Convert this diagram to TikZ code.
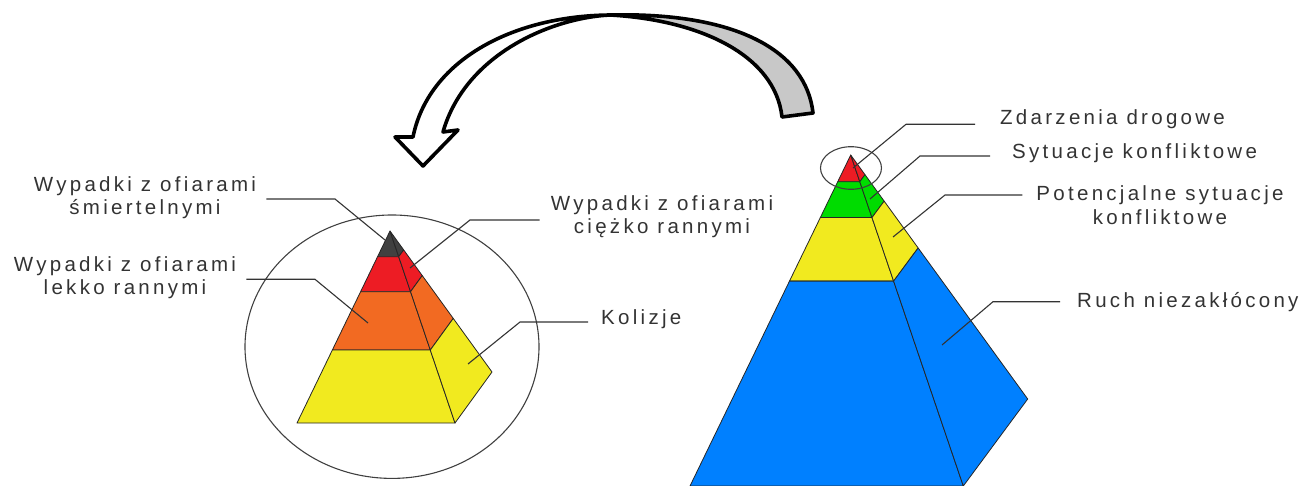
\documentclass[tikz,border=0pt]{standalone}
\usepackage{fontspec}
\setmainfont{Liberation Sans}[LetterSpace=16]
\usetikzlibrary{calc}
\definecolor{txt}{HTML}{333333}
\definecolor{pgray}{HTML}{404040}
\definecolor{pred}{HTML}{ED1C24}
\definecolor{porange}{HTML}{F26A22}
\definecolor{pyellow}{HTML}{F1EA1F}
\definecolor{pgreen}{HTML}{00DC00}
\definecolor{pblue}{HTML}{0080FF}
\definecolor{agray}{HTML}{C8C8C8}

\begin{document}
\begin{tikzpicture}[x=1pt,y=-1pt,
	lbl/.style={font=\fontsize{20.5}{23.5}\selectfont,text=txt,inner sep=0pt,align=center},
	leader/.style={draw=txt,line width=1.1pt},
	face/.style={draw=black!85,line width=0.8pt,line join=round},
	ring/.style={draw=black!75,line width=1.1pt},
	arrowline/.style={draw=black,line width=3.6pt,line join=round}]
	\useasboundingbox (0,0) rectangle (1314,486);
	\coordinate (lA) at (390,231); \coordinate (lL) at (297,423);
	\coordinate (lM) at (455,423); \coordinate (lR) at (492,372);
	\foreach \ta/\tb/\col in {0/0.134/pgray,0.134/0.316/pred,0.316/0.62/porange,0.62/1/pyellow}{
		\filldraw[face,fill=\col] ($(lA)!\ta!(lL)$) -- ($(lA)!\ta!(lM)$) -- ($(lA)!\tb!(lM)$) -- ($(lA)!\tb!(lL)$) -- cycle;
		\filldraw[face,fill=\col] ($(lA)!\ta!(lM)$) -- ($(lA)!\ta!(lR)$) -- ($(lA)!\tb!(lR)$) -- ($(lA)!\tb!(lM)$) -- cycle;
	}
	\coordinate (rA) at (850.7,155); \coordinate (rL) at (690,486);
	\coordinate (rM) at (963.3,486); \coordinate (rR) at (1027.7,399);
	\foreach \ta/\tb/\col in {0/0.0807/pred,0.0807/0.189/pgreen,0.189/0.381/pyellow,0.381/1/pblue}{
		\filldraw[face,fill=\col] ($(rA)!\ta!(rL)$) -- ($(rA)!\ta!(rM)$) -- ($(rA)!\tb!(rM)$) -- ($(rA)!\tb!(rL)$) -- cycle;
		\filldraw[face,fill=\col] ($(rA)!\ta!(rM)$) -- ($(rA)!\ta!(rR)$) -- ($(rA)!\tb!(rR)$) -- ($(rA)!\tb!(rM)$) -- cycle;
	}
	\draw[ring] (392,346.7) ellipse (147 and 131.7);
	\draw[ring] (851,168) ellipse (30.5 and 21.3);
	\filldraw[arrowline,fill=agray] (782,117) -- (813,113) .. controls (806,50) and (735,12) .. (610,15) .. controls (700,20) and (775,55) .. (782,117) -- cycle;
	\filldraw[arrowline,fill=white] (443,132) -- (458,130) -- (423,166) -- (395,137) -- (413,137) .. controls (428,62) and (510,16) .. (610,15) .. controls (550,18) and (465,55) .. (443,132) -- cycle;
	\node[lbl] (smierc) at (145,197.5) {Wypadki z ofiarami\\śmiertelnymi};
	\node[lbl] (lekko) at (125,277.5) {Wypadki z ofiarami\\lekko rannymi};
	\node[lbl] (ciezko) at (662,216.5) {Wypadki z ofiarami\\ciężko rannymi};
	\node[lbl,anchor=base west] (koliz) at (601,324) {Kolizje};
	\node[lbl,anchor=base west] (zdarz) at (1000,125) {Zdarzenia drogowe};
	\node[lbl,anchor=base west] (sytu) at (1012,159) {Sytuacje konfliktowe};
	\node[lbl] (poten) at (1160,205) {Potencjalne sytuacje\\konfliktowe};
	\node[lbl,anchor=base west] (ruch) at (1077,307) {Ruch niezakłócony};
	\coordinate (e1) at (335,199); \coordinate (t1) at (385,240);
	\coordinate (e2) at (315,279.3); \coordinate (t2) at (368,323);
	\coordinate (e3) at (470,220); \coordinate (t3) at (410,268);
	\coordinate (e4) at (520,322); \coordinate (t4) at (468,364);
	\coordinate (e5) at (906,124.3); \coordinate (t5) at (853,168);
	\coordinate (e6) at (920,156); \coordinate (t6) at (870,199);
	\coordinate (e7) at (945,195); \coordinate (t7) at (893,237);
	\coordinate (e8) at (993,301.7); \coordinate (t8) at (942,345);
	\draw[leader] (smierc.east |- e1) ++(10,0) -- (e1) -- (t1);
	\draw[leader] (lekko.east |- e2) ++(10,0) -- (e2) -- (t2);
	\draw[leader] (ciezko.west |- e3) ++(-11,0) -- (e3) -- (t3);
	\draw[leader] (koliz.west |- e4) ++(-13,0) -- (e4) -- (t4);
	\draw[leader] (zdarz.west |- e5) ++(-25,0) -- (e5) -- (t5);
	\draw[leader] (sytu.west |- e6) ++(-22,0) -- (e6) -- (t6);
	\draw[leader] (poten.west |- e7) ++(-14,0) -- (e7) -- (t7);
	\draw[leader] (ruch.west |- e8) ++(-17,0) -- (e8) -- (t8);
\end{tikzpicture}
\end{document}
